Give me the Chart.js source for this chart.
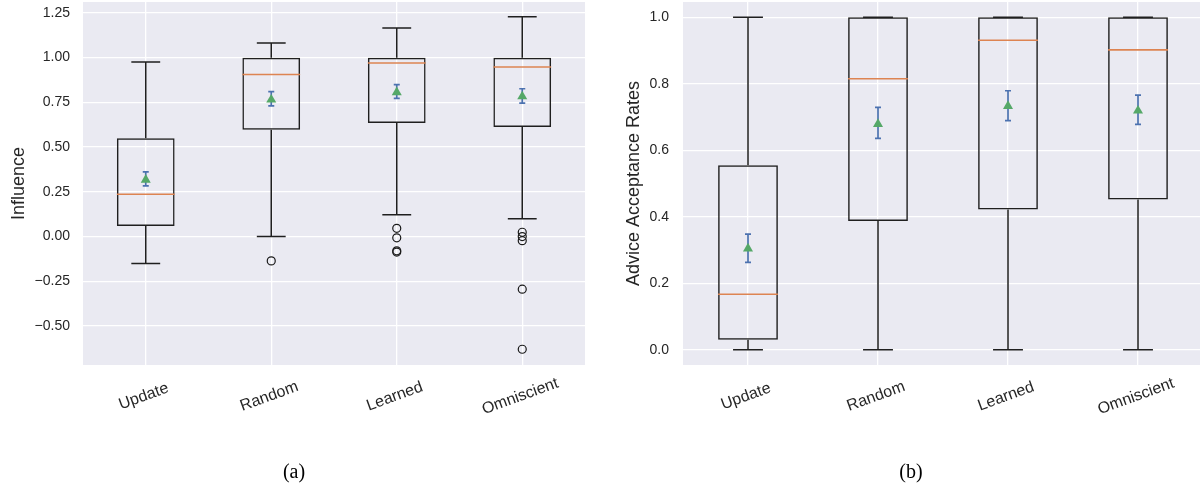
<!DOCTYPE html>
<html><head><meta charset="utf-8">
<script src="https://cdn.jsdelivr.net/npm/chart.js@4.4.0/dist/chart.umd.min.js"></script>
<style>
html,body{margin:0;padding:0;width:1200px;height:488px;overflow:hidden;background:#fff;}
.panel{position:absolute;top:0;height:488px;}
.cap{position:absolute;font-family:"Liberation Serif","Times New Roman",serif;font-size:20px;color:#000;transform:translate(-50%,-50%);white-space:nowrap;}
</style></head>
<body>
<div class="panel" style="left:0;width:600px"><canvas id="c1" width="600" height="488"></canvas></div>
<div class="panel" style="left:600px;width:620px"><canvas id="c2" width="620" height="488"></canvas></div>
<div class="cap" style="left:294px;top:471px">(a)</div>
<div class="cap" style="left:911px;top:471px">(b)</div>
<script>
// ---------- data ----------
const categories = ['Update', 'Random', 'Learned', 'Omniscient'];

// (a) Influence
const infWhiskerLow  = [-0.150, 0.000, 0.122, 0.100];
const infQ1          = [0.059, 0.597, 0.634, 0.612];
const infMedian      = [0.236, 0.906, 0.970, 0.948];
const infQ3          = [0.550, 1.000, 1.000, 1.000];
const infWhiskerHigh = [0.976, 1.082, 1.166, 1.228];
const infMean        = [0.317, 0.765, 0.806, 0.783];
const infMeanLow     = [0.283, 0.730, 0.772, 0.746];
const infMeanHigh    = [0.361, 0.810, 0.849, 0.826];
const infOutliers    = [[], [-0.136], [0.046, -0.007, -0.080, -0.087], [0.024, 0.000, -0.023, -0.294, -0.630]];
const infTicks       = [-0.50, -0.25, 0.00, 0.25, 0.50, 0.75, 1.00, 1.25];

// (b) Advice Acceptance Rates
const accWhiskerLow  = [0.000, 0.000, 0.000, 0.000];
const accQ1          = [0.030, 0.387, 0.422, 0.452];
const accMedian      = [0.167, 0.815, 0.931, 0.902];
const accQ3          = [0.555, 1.000, 1.000, 1.000];
const accWhiskerHigh = [1.000, 1.000, 1.000, 1.000];
const accMean        = [0.304, 0.679, 0.733, 0.719];
const accMeanLow     = [0.263, 0.636, 0.689, 0.678];
const accMeanHigh    = [0.348, 0.729, 0.779, 0.766];
const accOutliers    = [[], [], [], []];
const accTicks       = [0.0, 0.2, 0.4, 0.6, 0.8, 1.0];

// ---------- styling ----------
const BG = '#EAEAF2', GRID = '#FFFFFF', BOX = '#1f1f1f', MED = '#DD8452', MEANC = '#55A868', ERR = '#4C72B0', TXT = '#262626';

function makeChart(id, s) {
  const boxPlugin = {
    id: 'box' + id,
    beforeDraw(chart) {
      const {ctx, chartArea: a} = chart;
      ctx.save(); ctx.fillStyle = BG; ctx.fillRect(a.left, a.top, a.right - a.left, a.bottom - a.top); ctx.restore();
    },
    beforeDatasetsDraw(chart) {
      const {ctx, scales: {x, y}} = chart;
      const bars = chart.getDatasetMeta(0).data;
      ctx.save();
      ctx.lineCap = 'butt';
      categories.forEach((c, i) => {
        const px = x.getPixelForValue(i);
        const half = bars[i].width / 4;
        ctx.strokeStyle = BOX; ctx.lineWidth = 1.5;
        ctx.beginPath();
        ctx.moveTo(px, y.getPixelForValue(s.q3[i])); ctx.lineTo(px, y.getPixelForValue(s.hi[i]));
        ctx.moveTo(px, y.getPixelForValue(s.q1[i])); ctx.lineTo(px, y.getPixelForValue(s.lo[i]));
        ctx.moveTo(px - half, y.getPixelForValue(s.hi[i])); ctx.lineTo(px + half, y.getPixelForValue(s.hi[i]));
        ctx.moveTo(px - half, y.getPixelForValue(s.lo[i])); ctx.lineTo(px + half, y.getPixelForValue(s.lo[i]));
        ctx.stroke();
        // mean error bar
        ctx.strokeStyle = ERR; ctx.lineWidth = 1.7;
        const yl = y.getPixelForValue(s.meanLo[i]), yh = y.getPixelForValue(s.meanHi[i]);
        ctx.beginPath();
        ctx.moveTo(px, yl); ctx.lineTo(px, yh);
        ctx.moveTo(px - 3, yl); ctx.lineTo(px + 3, yl);
        ctx.moveTo(px - 3, yh); ctx.lineTo(px + 3, yh);
        ctx.stroke();
      });
      ctx.restore();
    },
    afterDatasetsDraw(chart) {
      const {ctx, scales: {x, y}} = chart;
      const bars = chart.getDatasetMeta(0).data;
      ctx.save();
      ctx.strokeStyle = MED; ctx.lineWidth = 1.6;
      categories.forEach((c, i) => {
        const px = x.getPixelForValue(i), hw = bars[i].width / 2;
        const py = y.getPixelForValue(s.median[i]);
        ctx.beginPath(); ctx.moveTo(px - hw, py); ctx.lineTo(px + hw, py); ctx.stroke();
      });
      ctx.restore();
    },
    afterDraw(chart) {
      const {ctx, chartArea: a, scales: {x}} = chart;
      ctx.save();
      ctx.font = '16px "Liberation Sans", Arial, sans-serif';
      ctx.fillStyle = TXT; ctx.textAlign = 'center'; ctx.textBaseline = 'middle';
      categories.forEach((c, i) => {
        ctx.save();
        ctx.translate(x.getPixelForValue(i) - 2, a.bottom + 31.5);
        ctx.rotate(-20 * Math.PI / 180);
        ctx.fillText(c, 0, 0);
        ctx.restore();
      });
      ctx.restore();
    }
  };

  const outlierPts = [];
  s.out.forEach((arr, i) => arr.forEach(v => outlierPts.push({x: categories[i], y: v})));

  return new Chart(document.getElementById(id), {
    type: 'bar',
    data: {
      labels: categories,
      datasets: [
        {
          type: 'bar',
          data: categories.map((c, i) => [s.q1[i], s.q3[i]]),
          backgroundColor: 'rgba(0,0,0,0)',
          borderColor: BOX, borderWidth: 1.5, borderSkipped: false,
          barPercentage: 0.46, categoryPercentage: 1.0, grouped: false, order: 2
        },
        {
          type: 'scatter',
          data: categories.map((c, i) => ({x: c, y: s.mean[i]})),
          pointStyle: 'triangle', pointRadius: 5.8,
          backgroundColor: MEANC, borderColor: MEANC, borderWidth: 0, order: 0
        },
        {
          type: 'scatter',
          data: outlierPts,
          pointStyle: 'circle', pointRadius: 4,
          backgroundColor: 'rgba(0,0,0,0)', borderColor: '#1a1a1a', borderWidth: 1.2, order: 1
        }
      ]
    },
    options: {
      responsive: false, animation: false, devicePixelRatio: 1,
      layout: {autoPadding: false, padding: {left: 0, top: 2, right: s.padRight, bottom: 0}},
      plugins: {legend: {display: false}, tooltip: {enabled: false}},
      scales: {
        x: {
          type: 'category', offset: true,
          grid: {offset: false, color: GRID, lineWidth: 1.3, drawTicks: false},
          border: {display: false},
          ticks: {display: false},
          afterFit: sc => { sc.height = 123; sc.paddingLeft = 0; sc.paddingRight = 0; }
        },
        y: {
          type: 'linear', min: s.min, max: s.max,
          grid: {color: GRID, lineWidth: 1.3, drawTicks: false},
          border: {display: false},
          afterBuildTicks: sc => { sc.ticks = s.ticks.map(v => ({value: v})); },
          ticks: {
            padding: s.tickPad, color: TXT,
            font: {family: '"Liberation Sans", Arial, sans-serif', size: 14},
            callback: v => (v < 0 ? '\u2212' : '') + Math.abs(v).toFixed(s.dec)
          },
          title: {
            display: true, text: s.title, color: TXT,
            font: {family: '"Liberation Sans", Arial, sans-serif', size: 18},
            padding: {top: s.titlePad, bottom: 0}
          },
          afterFit: sc => { sc.width = 83; sc.paddingTop = 0; sc.paddingBottom = 0; }
        }
      }
    },
    plugins: [boxPlugin]
  });
}

makeChart('c1', {
  lo: infWhiskerLow, q1: infQ1, median: infMedian, q3: infQ3, hi: infWhiskerHigh,
  mean: infMean, meanLo: infMeanLow, meanHi: infMeanHigh, out: infOutliers,
  ticks: infTicks, min: -0.718, max: 1.311, dec: 2, title: 'Influence',
  padRight: 15, tickPad: 13, titlePad: 8
});
makeChart('c2', {
  lo: accWhiskerLow, q1: accQ1, median: accMedian, q3: accQ3, hi: accWhiskerHigh,
  mean: accMean, meanLo: accMeanLow, meanHi: accMeanHigh, out: accOutliers,
  ticks: accTicks, min: -0.046, max: 1.046, dec: 1, title: 'Advice Acceptance Rates',
  padRight: 17, tickPad: 14, titlePad: 23
});
</script>
</body></html>
